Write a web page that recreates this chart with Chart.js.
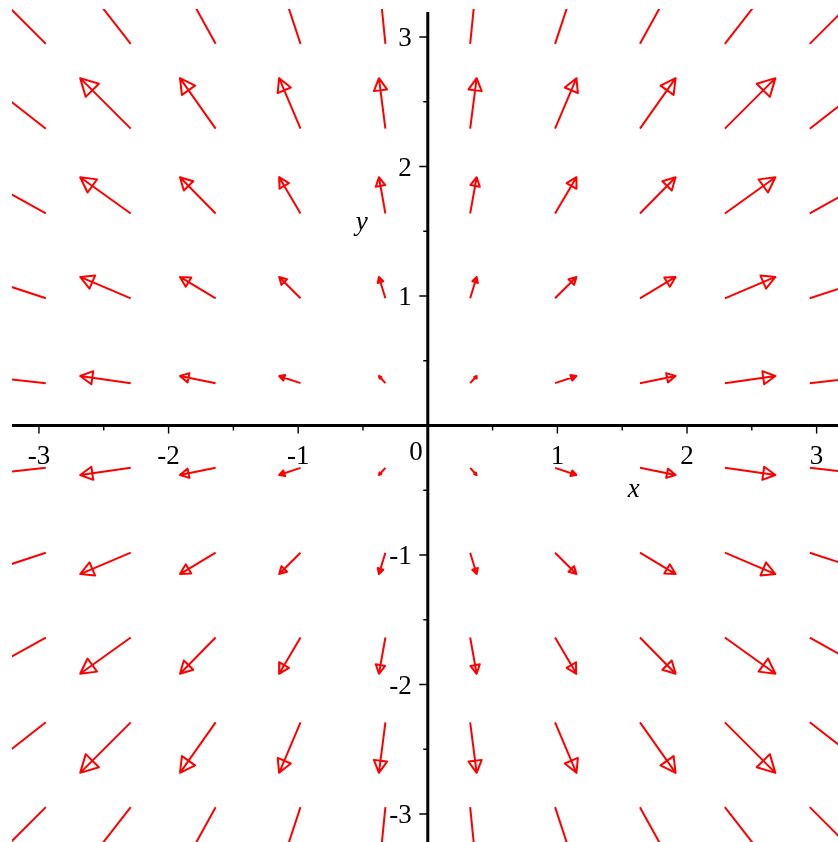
<!DOCTYPE html>
<html>
<head>
<meta charset="utf-8">
<script src="https://cdn.jsdelivr.net/npm/chart.js@4.4.1/dist/chart.umd.min.js"></script>
<style>
  html, body { margin: 0; padding: 0; background: #fff; }
  #wrap { width: 838px; height: 842px; }
</style>
</head>
<body>
<div id="wrap"><canvas id="fieldChart" width="838" height="842"></canvas></div>
<script>
// tails of the arrows (grid points)
const gridX = [-2.947, -2.292, -1.637, -0.982, -0.327, 0.327, 0.982, 1.637, 2.292, 2.947];
const gridY = [2.947, 2.292, 1.637, 0.982, 0.327, -0.327, -0.982, -1.637, -2.292, -2.947];
// arrow components: x part per column, y part per row
const fieldU = [-0.50, -0.39, -0.275, -0.165, -0.05, 0.05, 0.165, 0.275, 0.39, 0.50];
const fieldV = [0.50, 0.39, 0.28, 0.165, 0.055, -0.055, -0.165, -0.28, -0.39, -0.50];

const majorTicks = [-3, -2, -1, 1, 2, 3];
const minorTicks = [-2.5, -1.5, -0.5, 0.5, 1.5, 2.5];
const xTickLabels = ["-3", "-2", "-1", "1", "2", "3"];
const yTickLabels = ["-3", "-2", "-1", "1", "2", "3"];
const originLabel = "0";
const xTitle = "x";
const yTitle = "y";

const serif = '"Liberation Serif", "Times New Roman", serif';

function arrowPoints(x0, y0, u, v) {
  const x1 = x0 + u, y1 = y0 + v;
  const len = Math.hypot(u, v);
  const ux = u / len, uy = v / len;
  const headLen = 0.24 * len, half = 0.13 * len;
  const bx = x1 - ux * headLen, by = y1 - uy * headLen;
  return [
    { x: x0, y: y0 },
    { x: x1, y: y1 },
    { x: bx - uy * half, y: by + ux * half },
    { x: bx + uy * half, y: by - ux * half },
    { x: x1, y: y1 },
  ];
}

const datasets = [];
gridY.forEach((gy, j) => {
  gridX.forEach((gx, i) => {
    datasets.push({
      data: arrowPoints(gx, gy, fieldU[i], fieldV[j]),
      showLine: true,
      borderColor: '#ff0000',
      borderWidth: 2,
      borderJoinStyle: 'round',
      borderCapStyle: 'butt',
      pointRadius: 0,
      pointHoverRadius: 0,
      tension: 0,
      clip: 0,
    });
  });
});

// Maple style axes through the origin
const axesPlugin = {
  id: 'mapleAxes',
  beforeDatasetsDraw(chart) {
    const { ctx, chartArea, scales: { x, y } } = chart;
    const x0 = x.getPixelForValue(0);
    const y0 = y.getPixelForValue(0);
    ctx.save();
    ctx.strokeStyle = '#000';
    ctx.fillStyle = '#000';

    ctx.lineWidth = 3;
    ctx.beginPath();
    ctx.moveTo(chartArea.left, y0);
    ctx.lineTo(chartArea.right, y0);
    ctx.moveTo(x0, chartArea.top + 3);
    ctx.lineTo(x0, chartArea.bottom);
    ctx.stroke();

    ctx.lineWidth = 1.4;
    ctx.beginPath();
    majorTicks.forEach(t => {
      const px = x.getPixelForValue(t);
      ctx.moveTo(px, y0);
      ctx.lineTo(px, y0 + 8);
      const py = y.getPixelForValue(t);
      ctx.moveTo(x0, py);
      ctx.lineTo(x0 - 8.5, py);
    });
    minorTicks.forEach(t => {
      const px = x.getPixelForValue(t);
      ctx.moveTo(px, y0);
      ctx.lineTo(px, y0 + 5);
      const py = y.getPixelForValue(t);
      ctx.moveTo(x0, py);
      ctx.lineTo(x0 - 4.5, py);
    });
    ctx.stroke();

    ctx.font = '27px ' + serif;
    ctx.textBaseline = 'alphabetic';
    ctx.textAlign = 'center';
    majorTicks.forEach((t, k) => {
      ctx.fillText(xTickLabels[k], x.getPixelForValue(t), y0 + 38);
    });
    ctx.textAlign = 'right';
    majorTicks.forEach((t, k) => {
      ctx.fillText(yTickLabels[k], x0 - 16, y.getPixelForValue(t) + 9.3);
    });
    ctx.fillText(originLabel, x0 - 5, y0 + 34);

    ctx.font = 'italic 27px ' + serif;
    ctx.textAlign = 'center';
    ctx.fillText(xTitle, x.getPixelForValue(1.59), y.getPixelForValue(-0.55));
    ctx.fillText(yTitle, x.getPixelForValue(-0.51), y.getPixelForValue(1.513));
    ctx.restore();
  }
};

new Chart(document.getElementById('fieldChart'), {
  type: 'scatter',
  data: { datasets },
  plugins: [axesPlugin],
  options: {
    responsive: false,
    devicePixelRatio: 1,
    animation: false,
    layout: { padding: { left: 12, top: 9, right: 0, bottom: 0 } },
    plugins: {
      legend: { display: false },
      tooltip: { enabled: false },
    },
    scales: {
      x: { type: 'linear', display: false, min: -3.208, max: 3.165 },
      y: { type: 'linear', display: false, min: -3.216, max: 3.216 },
    },
  },
});
</script>
</body>
</html>
